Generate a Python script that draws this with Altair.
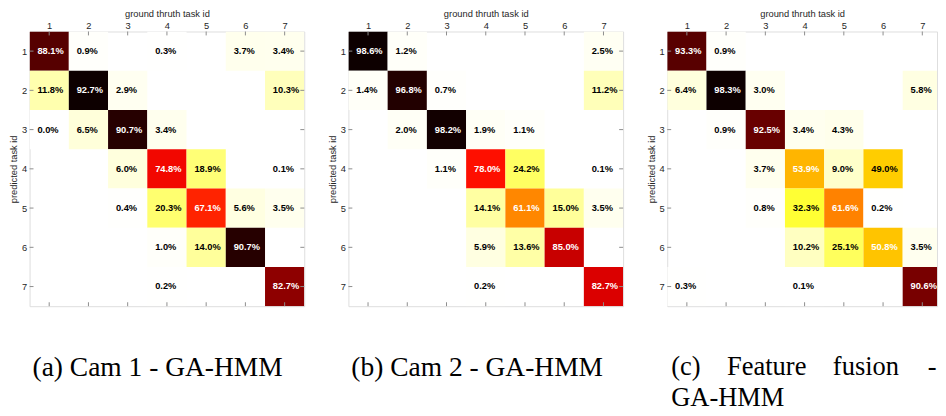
import altair as alt
import pandas as pd

tasks = [1, 2, 3, 4, 5, 6, 7]

# rows = predicted task id (1..7), columns = ground truth task id (1..7); None = empty cell
cam1 = [
    [88.1, 0.9, None, 0.3, None, 3.7, 3.4],
    [11.8, 92.7, 2.9, None, None, None, 10.3],
    [0.0, 6.5, 90.7, 3.4, None, None, None],
    [None, None, 6.0, 74.8, 18.9, None, 0.1],
    [None, None, 0.4, 20.3, 67.1, 5.6, 3.5],
    [None, None, None, 1.0, 14.0, 90.7, None],
    [None, None, None, 0.2, None, None, 82.7],
]
cam2 = [
    [98.6, 1.2, None, None, None, None, 2.5],
    [1.4, 96.8, 0.7, None, None, None, 11.2],
    [None, 2.0, 98.2, 1.9, 1.1, None, None],
    [None, None, 1.1, 78.0, 24.2, None, 0.1],
    [None, None, None, 14.1, 61.1, 15.0, 3.5],
    [None, None, None, 5.9, 13.6, 85.0, None],
    [None, None, None, 0.2, None, None, 82.7],
]
fusion = [
    [93.3, 0.9, None, None, None, None, None],
    [6.4, 98.3, 3.0, None, None, None, 5.8],
    [None, 0.9, 92.5, 3.4, 4.3, None, None],
    [None, None, 3.7, 53.9, 9.0, 49.0, None],
    [None, None, 0.8, 32.3, 61.6, 0.2, None],
    [None, None, None, 10.2, 25.1, 50.8, 3.5],
    [0.3, None, None, 0.1, None, None, 90.6],
]

panels = ["a", "b", "c"]
matrices = [cam1, cam2, fusion]
captions = [
    "(a) Cam 1 - GA-HMM",
    "(b) Cam 2 - GA-HMM",
    ["(c)\u00a0\u00a0\u00a0\u00a0Feature\u00a0\u00a0\u00a0\u00a0fusion\u00a0\u00a0\u00a0\u00a0\u200a-", "GA-HMM"],
]
x_title = "ground thruth task id"
y_title = "predicted task id"

rows = []
for p, m in zip(panels, matrices):
    for i, r in enumerate(m):
        for j, v in enumerate(r):
            if v is not None:
                rows.append({"panel": p, "pred": tasks[i], "truth": tasks[j],
                             "value": v, "label": f"{v:.1f}%"})
df = pd.DataFrame(rows)
ticks_df = pd.DataFrame({"pos": tasks})

# reversed "hot" colour map on value / panel max
c_dom = [0, 0.05, 0.1, 0.15, 0.2, 0.25, 0.33, 0.4, 0.5, 0.55, 0.625, 0.72, 0.79, 0.82, 0.86, 0.89, 0.94, 0.97, 1.0]
c_rng = ["#ffffff", "#ffffe8", "#ffffc4", "#ffff9c", "#ffff78", "#ffff60", "#ffff33", "#ffee00",
         "#ffcc00", "#ffb400", "#ff8400", "#ff2400", "#ff1000", "#e80000", "#cc0000", "#900000",
         "#6a0000", "#300000", "#0d0000"]
cscale = alt.Scale(domain=c_dom, range=c_rng, interpolate="rgb", clamp=True)

FONT = "Liberation Sans"
TXT = "#262626"
TICK = "#8c8c8c"


def panel(name, caption, width, dx, cap_size):
    xmax = 0.5 + width / 40.0
    xs = alt.Scale(domain=[0.5, xmax], nice=False, zero=False)
    ys = alt.Scale(domain=[0.5, 7.5], reverse=True, nice=False, zero=False)
    xaxis = alt.Axis(orient="top", values=tasks, format="d", ticks=False, domain=False, grid=False,
                     labelFont=FONT, labelFontSize=9.5, labelColor=TXT, labelPadding=1,
                     title=x_title, titleFont=FONT, titleFontSize=9.5, titleFontWeight="normal",
                     titleColor=TXT, titlePadding=2)
    yaxis = alt.Axis(orient="left", values=tasks, format="d", ticks=False, domain=False, grid=False,
                     labelFont=FONT, labelFontSize=9.5, labelColor=TXT, labelPadding=3,
                     title=y_title, titleFont=FONT, titleFontSize=9.5, titleFontWeight="normal",
                     titleColor=TXT, titlePadding=3)

    base = (alt.Chart(df)
            .transform_filter(alt.datum.panel == name)
            .transform_joinaggregate(vmax="max(value)")
            .transform_calculate(t="datum.value / datum.vmax",
                                 x1="datum.truth - 0.5", x2="datum.truth + 0.5",
                                 y1="datum.pred - 0.5", y2="datum.pred + 0.5"))

    rect = base.mark_rect(clip=True).encode(
        x=alt.X("x1:Q", scale=xs, axis=xaxis, title=x_title),
        x2="x2:Q",
        y=alt.Y("y1:Q", scale=ys, axis=yaxis, title=y_title),
        y2="y2:Q",
        color=alt.Color("t:Q", scale=cscale, legend=None),
    )
    text = base.mark_text(align="left", baseline="middle", dx=-12, font=FONT, fontWeight="bold",
                          fontSize=9.5, clip=True).encode(
        x=alt.X("truth:Q", scale=xs, axis=xaxis, title=x_title),
        y=alt.Y("pred:Q", scale=ys, axis=yaxis, title=y_title),
        text="label:N",
        color=alt.condition(alt.datum.value > 50, alt.value("white"), alt.value("black")),
    )
    tk = alt.Chart(ticks_df)
    bottom = tk.mark_rule(color=TICK, strokeWidth=1).encode(
        x=alt.X("pos:Q", scale=xs, axis=xaxis, title=x_title), y=alt.value(280), y2=alt.value(276))
    top = tk.mark_rule(color=TICK, strokeWidth=1).encode(
        x=alt.X("pos:Q", scale=xs, axis=xaxis, title=x_title), y=alt.value(0), y2=alt.value(4))
    left = tk.mark_rule(color=TICK, strokeWidth=1).encode(
        y=alt.Y("pos:Q", scale=ys, axis=yaxis, title=y_title), x=alt.value(0), x2=alt.value(4))
    layers = [rect, bottom, top, left]
    if width >= 280:
        right = tk.mark_rule(color=TICK, strokeWidth=1).encode(
            y=alt.Y("pos:Q", scale=ys, axis=yaxis, title=y_title), x=alt.value(width), x2=alt.value(width - 4))
        layers.append(right)
    layers.append(text)
    return alt.layer(*layers).properties(
        width=width, height=280,
        title=alt.TitleParams(text=caption, orient="bottom", anchor="start", frame="group",
                              font="Liberation Serif", fontSize=cap_size, fontWeight="normal",
                              color="black", offset=49, dx=dx, lineHeight=31.5),
    )


chart = alt.hconcat(
    panel("a", captions[0], 280, 3, 28),
    panel("b", captions[1], 280, 3, 28),
    panel("c", captions[2], 275, 4, 27),
    spacing=22,
).properties(
    padding={"left": 0, "top": -4, "right": 0, "bottom": 0}
).configure_view(stroke=TICK, strokeWidth=1).configure(background="white")

chart.save("out.html", embed_options={"renderer": "svg", "actions": False})
